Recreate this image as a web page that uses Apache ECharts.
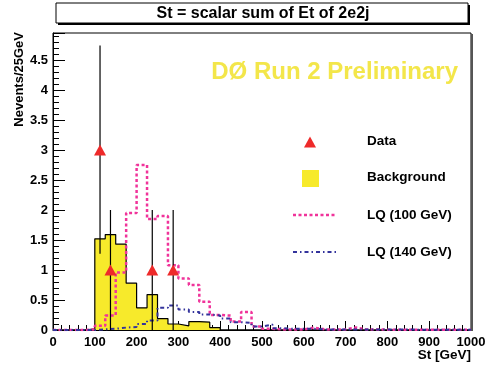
<!DOCTYPE html>
<html><head><meta charset="utf-8">
<script src="https://cdn.jsdelivr.net/npm/echarts@6/dist/echarts.min.js"></script>
<style>html,body{margin:0;padding:0;background:#fff}#c{width:489px;height:366px}</style>
</head><body><div id="c"></div>
<script>
// ---- data ----
const binStart = 0;
const binWidth = 25;   // GeV
const background = [0,0,0,0.02, 1.52,1.59,1.43,0.78, 0.37,0.59,0.19,0.10, 0.07,0.14,0.13,0.04,
  0,0,0,0, 0,0,0,0, 0,0,0,0, 0,0,0,0, 0,0,0,0, 0,0,0,0];
const lq100 = [0,0,0,0.01, 0.07,0.24,0.96,1.95, 2.75,1.85,1.90,1.08, 0.86,0.75,0.47,0.25,
  0.24,0.14,0.30,0.06, 0.02,0.01,0.01,0.01, 0.04,0.01,0.01,0.01, 0.04,0.01,0.01,0.005,
  0.005,0.005,0.005,0.005, 0.005,0.005,0.005,0.005];
const lq140 = [0,0,0,0, 0.01,0.02,0.04,0.05, 0.10,0.16,0.37,0.41, 0.34,0.30,0.26,0.24,
  0.19,0.13,0.12,0.06, 0.09,0.03,0.02,0.02, 0.02,0.01,0.01,0.01, 0.01,0.01,0.01,0.01,
  0.01,0.01,0.005,0.005, 0.005,0.005,0.005,0.005];
const dataX = [112.5, 137.5, 237.5, 287.5];
const dataY = [3, 1, 1, 1];
const errLow = [1.27, 0, 0, 0];
const errHigh = [4.74, 2, 2, 2];
const xTicks = {min: 0, max: 1000, interval: 100};
const yTicks = {min: 0, max: 4.95, interval: 0.5};

const titleText = 'St = scalar sum of Et of 2e2j';
const xName = 'St [GeV]';
const yName = 'Nevents/25GeV';
const legendNames = ['Data', 'Background', 'LQ (100 GeV)', 'LQ (140 GeV)'];

// ---- helpers ----
function stepData(vals) {
  const out = vals.map((v, i) => [binStart + i * binWidth, v]);
  out.push([binStart + vals.length * binWidth, vals[vals.length - 1]]);
  return out;
}
const FF = '"Liberation Sans", Arial, Helvetica, sans-serif';
const PINK = '#f0339a', BLUE = '#33339c', YEL = '#f7ea2b', RED = '#ee2a2a';

const chart = echarts.init(document.getElementById('c'), null, {renderer: 'canvas'});
chart.setOption({
  animation: false,
  backgroundColor: '#fff',
  grid: {left: 53, right: 18, top: 33, bottom: 36, show: true, borderColor: '#000', borderWidth: 1, backgroundColor: '#fff'},
  xAxis: {
    type: 'value', min: xTicks.min, max: xTicks.max, interval: xTicks.interval,
    axisLine: {show: true, lineStyle: {color: '#000', width: 1}},
    axisTick: {show: true, inside: true, length: 9, lineStyle: {color: '#000'}},
    minorTick: {show: true, splitNumber: 5, length: 5, lineStyle: {color: '#000'}},
    splitLine: {show: false},
    axisLabel: {color: '#000', fontFamily: FF, fontWeight: 'bold', fontSize: 13, margin: 6,
                formatter: function (v) { return String(v); }}
  },
  yAxis: {
    type: 'value', min: yTicks.min, max: yTicks.max, interval: yTicks.interval,
    axisLine: {show: true, lineStyle: {color: '#000', width: 1}},
    axisTick: {show: true, inside: true, length: 12, lineStyle: {color: '#000'}},
    minorTick: {show: true, splitNumber: 5, length: 6, lineStyle: {color: '#000'}},
    splitLine: {show: false},
    axisLabel: {color: '#000', fontFamily: FF, fontWeight: 'bold', fontSize: 13, margin: 5, showMaxLabel: false}
  },
  series: [
    {
      name: 'Background', type: 'line', step: 'end', data: stepData(background),
      showSymbol: false, symbol: 'none',
      lineStyle: {color: '#000', width: 1.2},
      areaStyle: {color: YEL, opacity: 1},
      z: 2
    },
    {
      name: 'LQ (100 GeV)', type: 'line', step: 'end', data: stepData(lq100),
      showSymbol: false, symbol: 'none',
      lineStyle: {color: PINK, width: 2.5, type: [3, 2.5]},
      z: 3
    },
    {
      name: 'LQ (140 GeV)', type: 'line', step: 'end', data: stepData(lq140),
      showSymbol: false, symbol: 'none',
      lineStyle: {color: BLUE, width: 2, type: [4, 3, 1.5, 3]},
      z: 3
    },
    {
      name: 'errors', type: 'custom',
      data: dataX.map((x, i) => [x, errLow[i], errHigh[i]]),
      encode: {x: 0, y: [1, 2]},
      renderItem: function (params, api) {
        const p1 = api.coord([api.value(0), api.value(1)]);
        const p2 = api.coord([api.value(0), api.value(2)]);
        return {type: 'line', shape: {x1: p1[0], y1: p1[1], x2: p2[0], y2: p2[1]},
                style: {stroke: '#000', lineWidth: 1.2}};
      },
      z: 4
    },
    {
      name: 'Data', type: 'scatter', data: dataX.map((x, i) => [x, dataY[i]]),
      symbol: 'triangle', symbolSize: [12, 11],
      itemStyle: {color: RED, opacity: 1},
      z: 5
    }
  ],
  graphic: [
    // title box with shadow
    {type: 'rect', shape: {x: 58, y: 5, width: 412, height: 20}, style: {fill: '#000'}, z: 1},
    {type: 'rect', shape: {x: 56, y: 3, width: 412, height: 20}, style: {fill: '#fff', stroke: '#000', lineWidth: 1}, z: 2},
    {type: 'text', x: 263, y: 14, style: {text: titleText, fill: '#000', font: 'bold 16px ' + FF, textAlign: 'center', textVerticalAlign: 'middle'}, z: 3},
    // frame shadow on right edge
    {type: 'rect', shape: {x: 471, y: 34, width: 2, height: 297}, style: {fill: '#555'}, z: 1},
    // axis names
    {type: 'text', x: 19, y: 32, rotation: Math.PI / 2, style: {text: yName, fill: '#000', font: 'bold 13px ' + FF, textAlign: 'right', textVerticalAlign: 'middle'}},
    {type: 'text', x: 471, y: 355, style: {text: xName, fill: '#000', font: 'bold 13.5px ' + FF, textAlign: 'right', textVerticalAlign: 'middle'}},
    // preliminary label
    {type: 'text', x: 458, y: 72, style: {text: 'DØ Run 2 Preliminary', fill: '#f3e64a', font: 'bold 24px ' + FF, textAlign: 'right', textVerticalAlign: 'middle'}, z: 10},
    // legend
    {type: 'polygon', shape: {points: [[310, 136.5], [304, 147.5], [316, 147.5]]}, style: {fill: RED}, z: 10},
    {type: 'text', x: 367, y: 141, style: {text: legendNames[0], fill: '#000', font: 'bold 13.5px ' + FF, textVerticalAlign: 'middle'}, z: 10},
    {type: 'rect', shape: {x: 302, y: 170, width: 17, height: 17}, style: {fill: YEL}, z: 10},
    {type: 'text', x: 367, y: 177.5, style: {text: legendNames[1], fill: '#000', font: 'bold 13.5px ' + FF, textVerticalAlign: 'middle'}, z: 10},
    {type: 'line', shape: {x1: 293, y1: 215, x2: 335, y2: 215}, style: {stroke: PINK, lineWidth: 2.5, lineDash: [3, 2.5]}, z: 10},
    {type: 'text', x: 367, y: 215, style: {text: legendNames[2], fill: '#000', font: 'bold 13.5px ' + FF, textVerticalAlign: 'middle'}, z: 10},
    {type: 'line', shape: {x1: 293, y1: 252, x2: 336, y2: 252}, style: {stroke: BLUE, lineWidth: 2, lineDash: [4, 3, 1.5, 3]}, z: 10},
    {type: 'text', x: 367, y: 252.5, style: {text: legendNames[3], fill: '#000', font: 'bold 13.5px ' + FF, textVerticalAlign: 'middle'}, z: 10}
  ]
});
</script></body></html>
